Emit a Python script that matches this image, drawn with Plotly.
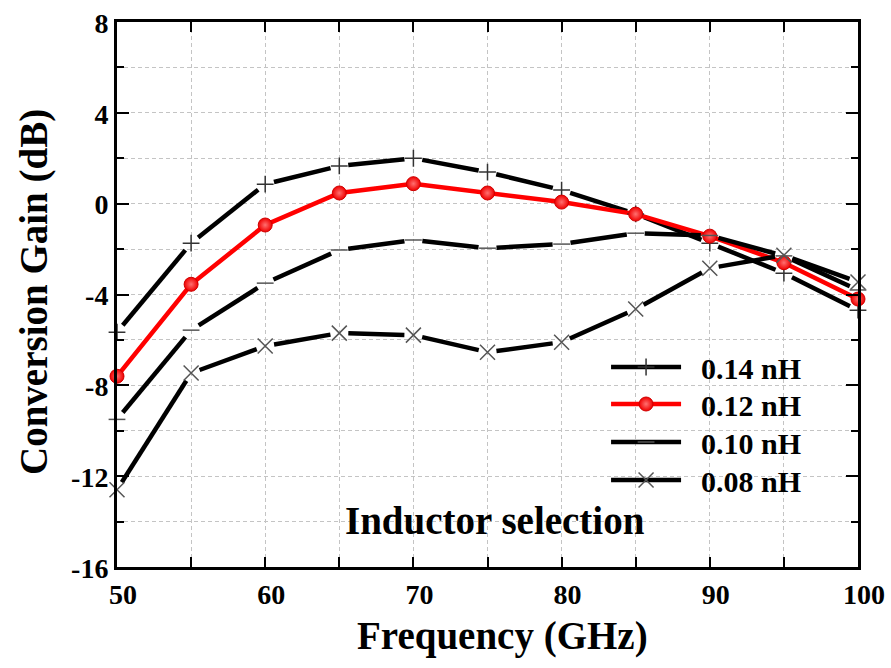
import math
import plotly.graph_objects as go

freq = [50, 55, 60, 65, 70, 75, 80, 85, 90, 95, 100]
gain_014 = [-5.66, -1.74, 0.86, 1.66, 2.0, 1.39, 0.6, -0.45, -1.74, -3.06, -4.69]
gain_012 = [-7.6, -3.55, -0.94, 0.47, 0.88, 0.47, 0.07, -0.46, -1.43, -2.6, -4.2]
gain_010 = [-9.5, -5.57, -3.5, -2.04, -1.6, -1.96, -1.78, -1.3, -1.4, -2.3, -3.8]
gain_008 = [-12.6, -7.46, -6.27, -5.7, -5.79, -6.54, -6.1, -4.64, -2.84, -2.27, -3.45]
labels = ["0.14 nH", "0.12 nH", "0.10 nH", "0.08 nH"]
x_ticks = [50, 60, 70, 80, 90, 100]
y_ticks = [8, 4, 0, -4, -8, -12, -16]

W, H = 891, 668
ML, MR, MT, MB = 117, 33, 22, 101
XR = [50, 100]
YR = [-16, 8]
PW, PH = W - ML - MR, H - MT - MB
SX = PW / (XR[1] - XR[0])
SY = PH / (YR[1] - YR[0])

FONT = "Liberation Serif"


def gapped(xs, ys, gap):
    gx, gy = [], []
    for i in range(len(xs) - 1):
        dx = (xs[i + 1] - xs[i]) * SX
        dy = (ys[i + 1] - ys[i]) * SY
        L = math.hypot(dx, dy)
        f = gap / L if L > 0 else 0
        gx += [xs[i] + (xs[i + 1] - xs[i]) * f, xs[i + 1] - (xs[i + 1] - xs[i]) * f, None]
        gy += [ys[i] + (ys[i + 1] - ys[i]) * f, ys[i + 1] - (ys[i + 1] - ys[i]) * f, None]
    return gx, gy


def isolated(xs, ys):
    ix, iy = [], []
    for a, b in zip(xs, ys):
        ix += [a, None]
        iy += [b, None]
    return ix, iy


series = [
    (gain_014, "black", dict(symbol="cross-thin", size=12, line=dict(color="#333", width=1.5)), 9),
    (gain_012, "#ff0000", dict(symbol="circle", size=14, color="#f00000",
                               gradient=dict(type="radial", color="#ff7070"),
                               line=dict(color="#d00000", width=1)), 0),
    (gain_010, "black", dict(symbol="line-ew", size=12, line=dict(color="#555", width=1.5)), 9),
    (gain_008, "black", dict(symbol="x-thin", size=15, line=dict(color="#555", width=1.5)), 9),
]
legend_ids = ["legend", "legend2", "legend3", "legend4"]
legend_rows = [367, 404, 442, 480]

fig = go.Figure()
for (ys, col, mk, gap), name in zip(series, labels):
    if gap > 0:
        gx, gy = gapped(freq, ys, gap)
    else:
        gx, gy = freq, ys
    fig.add_trace(go.Scatter(x=gx, y=gy, mode="lines", line=dict(color=col, width=4.5),
                             showlegend=False, hoverinfo="skip", cliponaxis=False))
for (ys, col, mk, gap), name, lid in zip(series, labels, legend_ids):
    ix, iy = isolated(freq, ys)
    fig.add_trace(go.Scatter(x=ix, y=iy, mode="lines+markers", name="<b>\u2002" + name + "</b>",
                             line=dict(color=col, width=4.5), marker=mk, legend=lid,
                             connectgaps=False, cliponaxis=False))

fig.add_annotation(x=75.5, y=-13.97, xref="x", yref="y", text="<b>Inductor selection</b>",
                   showarrow=False, font=dict(family=FONT, size=39, color="black"))
fig.add_annotation(x=(502 - ML) / PW, y=1 - (636 - MT) / PH, xref="paper", yref="paper",
                   xanchor="center", yanchor="middle",
                   text="<b>Frequency (GHz)</b>", showarrow=False,
                   font=dict(family=FONT, size=39, color="black"))
fig.add_annotation(x=(34 - ML) / PW, y=1 - (292 - MT) / PH, xref="paper", yref="paper",
                   xanchor="center", yanchor="middle",
                   text="<b>Conversion Gain (dB)</b>", showarrow=False, textangle=-90,
                   font=dict(family=FONT, size=39, color="black"))

grid = dict(showgrid=True, gridcolor="#c4c4c4", gridwidth=1, griddash="4px,3px")

fig.update_xaxes(range=XR, tickvals=x_ticks, ticktext=["<b>%d</b>" % v for v in x_ticks],
                 ticks="inside", ticklen=10, tickwidth=2, ticklabelshift=6,
                 tickcolor="black", showline=True, linecolor="black", linewidth=3, mirror="ticks",
                 tickfont=dict(family=FONT, size=28, color="black"), zeroline=False,
                 minor=dict(dtick=5, tick0=50, ticks="inside", ticklen=10, tickwidth=2, tickcolor="black", **grid),
                 **grid)
fig.update_yaxes(range=YR, tickvals=y_ticks, ticktext=["<b>%d</b>" % v for v in y_ticks],
                 ticks="inside", ticklen=12, tickwidth=2, ticklabelshift=1,
                 tickcolor="black", showline=True, linecolor="black", linewidth=3, mirror="ticks",
                 tickfont=dict(family=FONT, size=28, color="black"), zeroline=False,
                 minor=dict(dtick=2, tick0=0, ticks="inside", ticklen=7, tickwidth=2, tickcolor="black", **grid),
                 **grid)

layout_legends = {}
for lid, row in zip(legend_ids, legend_rows):
    layout_legends[lid] = dict(x=0.66, y=1 - (row - MT) / PH, xanchor="left", yanchor="middle",
                               bgcolor="rgba(0,0,0,0)", borderwidth=0,
                               font=dict(family=FONT, size=30, color="black"),
                               itemwidth=70)

fig.update_layout(
    width=W, height=H,
    margin=dict(l=ML, r=MR, t=MT, b=MB, autoexpand=False),
    plot_bgcolor="white", paper_bgcolor="white",
    font=dict(family=FONT, color="black"),
    **layout_legends,
)

fig.write_html("out.html")
